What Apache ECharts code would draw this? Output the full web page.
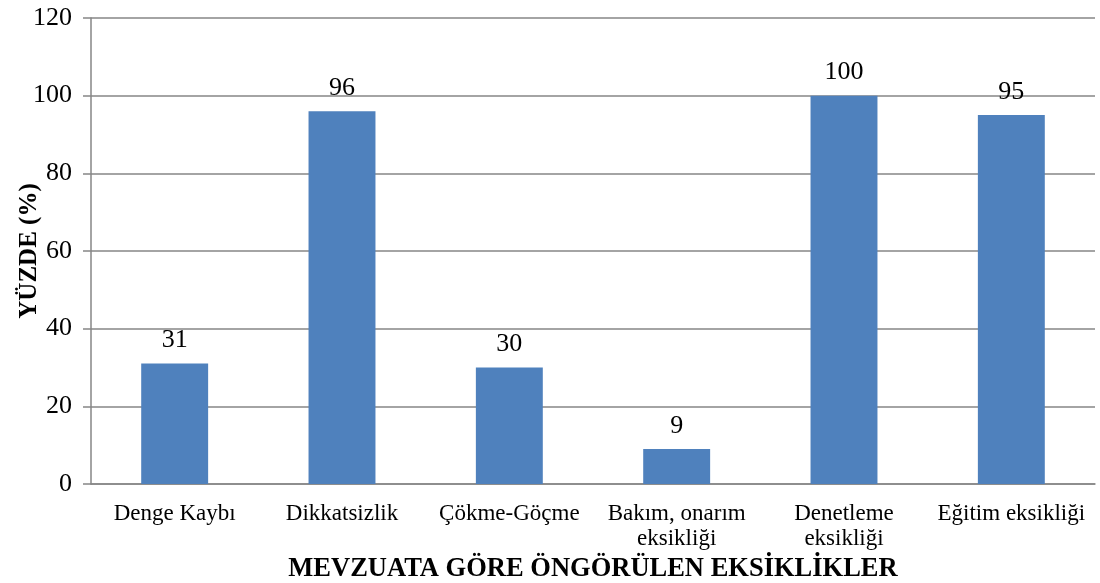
<!DOCTYPE html>
<html>
<head>
<meta charset="utf-8">
<script src="https://cdn.jsdelivr.net/npm/echarts@6/dist/echarts.min.js"></script>
<style>
html,body{margin:0;padding:0;background:#fff;}
#chart{width:1100px;height:583px;}
</style>
</head>
<body>
<div id="chart"></div>
<script>
const categories = ["Denge Kaybı", "Dikkatsizlik", "Çökme-Göçme", "Bakım, onarım\neksikliği", "Denetleme\neksikliği", "Eğitim eksikliği"];
const values = [31, 96, 30, 9, 100, 95];
const yTicks = { min: 0, max: 120, interval: 20 };
const xTitle = "MEVZUATA GÖRE ÖNGÖRÜLEN EKSİKLİKLER";
const yTitle = "YÜZDE (%)";

const FONT = "'Liberation Serif', 'Times New Roman', serif";
const chart = echarts.init(document.getElementById('chart'));
chart.setOption({
  backgroundColor: '#ffffff',
  animation: false,
  grid: { left: 91, right: 5, top: 18, bottom: 99, containLabel: false, outerBoundsMode: 'none' },
  xAxis: {
    type: 'category',
    data: categories,
    name: xTitle,
    nameLocation: 'middle',
    nameGap: 72,
    nameMoveOverlap: false,
    nameTextStyle: { fontFamily: FONT, fontSize: 26.5, fontWeight: 'bold', color: '#000' },
    axisLine: { show: true, lineStyle: { color: '#868686', width: 1.5 } },
    axisTick: { show: false },
    axisLabel: { fontFamily: FONT, fontSize: 23, color: '#000', margin: 17, lineHeight: 25, interval: 0 }
  },
  yAxis: {
    type: 'value',
    min: yTicks.min, max: yTicks.max, interval: yTicks.interval,
    name: yTitle,
    nameLocation: 'middle',
    nameGap: 49,
    nameRotate: 90,
    nameMoveOverlap: false,
    nameTextStyle: { fontFamily: FONT, fontSize: 25, fontWeight: 'bold', color: '#000' },
    axisLine: { show: true, lineStyle: { color: '#868686', width: 1.5 } },
    axisTick: { show: true, inside: false, length: 8, lineStyle: { color: '#868686', width: 1.5 } },
    axisLabel: { fontFamily: FONT, fontSize: 26, color: '#000', margin: 19 },
    splitLine: { show: true, lineStyle: { color: '#868686', width: 1.5 } }
  },
  series: [{
    type: 'bar',
    data: values,
    barWidth: '40%',
    itemStyle: { color: '#4F81BD' },
    label: { show: true, position: 'top', distance: 10, fontFamily: FONT, fontSize: 26, color: '#000' }
  }]
});
</script>
</body>
</html>
